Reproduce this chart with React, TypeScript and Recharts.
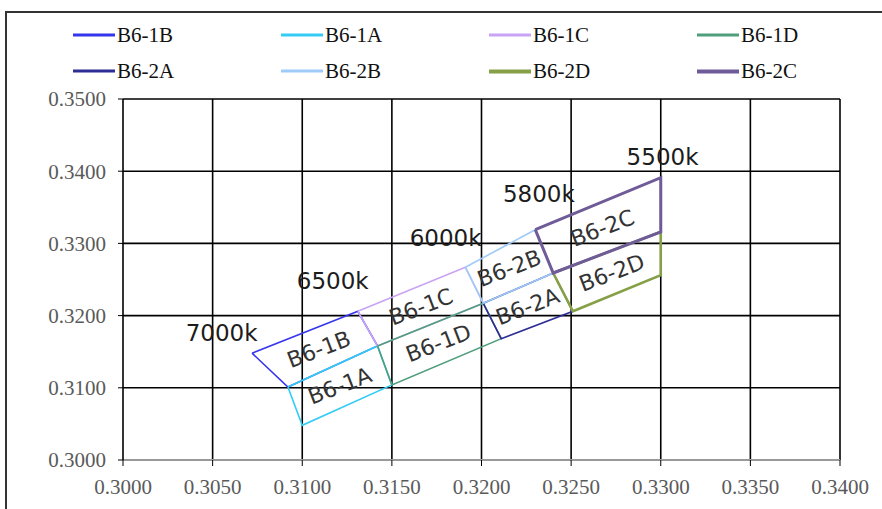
import React from 'react';
import { ScatterChart, Scatter, XAxis, YAxis, CartesianGrid } from 'recharts';

type Pt = { x: number; y: number };

const xTicks = [0.3, 0.305, 0.31, 0.315, 0.32, 0.325, 0.33, 0.335, 0.34];
const yTicks = [0.3, 0.31, 0.32, 0.33, 0.34, 0.35];

// each bin is a closed quadrangle (first point repeated at the end)
const b61B: Pt[] = [
  { x: 0.3072, y: 0.3148 }, { x: 0.3131, y: 0.3206 }, { x: 0.3142, y: 0.3158 },
  { x: 0.3092, y: 0.3101 }, { x: 0.3072, y: 0.3148 },
];
const b61A: Pt[] = [
  { x: 0.3092, y: 0.3101 }, { x: 0.3142, y: 0.3158 }, { x: 0.3150, y: 0.3104 },
  { x: 0.3100, y: 0.3048 }, { x: 0.3092, y: 0.3101 },
];
const b61C: Pt[] = [
  { x: 0.3131, y: 0.3206 }, { x: 0.3191, y: 0.3267 }, { x: 0.3201, y: 0.3217 },
  { x: 0.3142, y: 0.3158 }, { x: 0.3131, y: 0.3206 },
];
const b61D: Pt[] = [
  { x: 0.3142, y: 0.3158 }, { x: 0.3201, y: 0.3217 }, { x: 0.3211, y: 0.3168 },
  { x: 0.3150, y: 0.3104 }, { x: 0.3142, y: 0.3158 },
];
const b62A: Pt[] = [
  { x: 0.3201, y: 0.3217 }, { x: 0.3240, y: 0.3259 }, { x: 0.3251, y: 0.3206 },
  { x: 0.3211, y: 0.3168 }, { x: 0.3201, y: 0.3217 },
];
const b62B: Pt[] = [
  { x: 0.3191, y: 0.3267 }, { x: 0.3230, y: 0.3319 }, { x: 0.3240, y: 0.3259 },
  { x: 0.3201, y: 0.3217 }, { x: 0.3191, y: 0.3267 },
];
const b62D: Pt[] = [
  { x: 0.3240, y: 0.3259 }, { x: 0.3300, y: 0.3316 }, { x: 0.3300, y: 0.3256 },
  { x: 0.3251, y: 0.3206 }, { x: 0.3240, y: 0.3259 },
];
const b62C: Pt[] = [
  { x: 0.3230, y: 0.3319 }, { x: 0.3300, y: 0.3391 }, { x: 0.3300, y: 0.3316 },
  { x: 0.3240, y: 0.3259 }, { x: 0.3230, y: 0.3319 },
];

const cctLabels = [
  { x: 0.3055, y: 0.3176, text: '7000k' },
  { x: 0.3117, y: 0.3248, text: '6500k' },
  { x: 0.3180, y: 0.3307, text: '6000k' },
  { x: 0.3232, y: 0.3368, text: '5800k' },
  { x: 0.3301, y: 0.3420, text: '5500k' },
];

const bins = [
  { name: 'B6-1B', points: b61B, color: '#3535ee', width: 1.6 },
  { name: 'B6-1A', points: b61A, color: '#33ccf5', width: 1.6 },
  { name: 'B6-1C', points: b61C, color: '#c9a3f5', width: 1.6 },
  { name: 'B6-1D', points: b61D, color: '#4f9e7c', width: 1.6 },
  { name: 'B6-2A', points: b62A, color: '#2d2d96', width: 1.6 },
  { name: 'B6-2B', points: b62B, color: '#9ecbf7', width: 1.6 },
  { name: 'B6-2D', points: b62D, color: '#86a048', width: 2.6 },
  { name: 'B6-2C', points: b62C, color: '#6e5b98', width: 3 },
];

const centroid = (pts: Pt[]) => {
  const p = pts.slice(0, -1);
  return {
    x: p.reduce((s, q) => s + q.x, 0) / p.length,
    y: p.reduce((s, q) => s + q.y, 0) / p.length,
  };
};

const binLabels = bins.map((b) => ({ ...centroid(b.points), text: b.name }));

const noDot = () => <g />;

const CctText = (props: any) => (
  <text
    x={props.cx}
    y={props.cy}
    textAnchor="middle"
    dominantBaseline="central"
    fontFamily="DejaVu Sans"
    fontSize={23}
    fill="#1c1c1c"
  >
    {props.payload.text}
  </text>
);

const BinText = (props: any) => (
  <text
    x={props.cx}
    y={props.cy}
    textAnchor="middle"
    dominantBaseline="central"
    fontFamily="DejaVu Sans"
    fontSize={22}
    fill="#333"
    transform={`rotate(-21 ${props.cx} ${props.cy})`}
  >
    {props.payload.text}
  </text>
);

const serif = '"Liberation Serif", "Times New Roman", serif';

export default function App() {
  return (
    <div style={{ position: 'absolute', left: 0, top: 0, width: 882, height: 509, overflow: 'hidden', background: '#fff' }}>
      <div
        style={{
          position: 'absolute', left: 5, top: 11, width: 900, height: 520,
          borderLeft: '2px solid #333', borderTop: '2px solid #333',
        }}
      />
      {bins.map((b, i) => (
        <div
          key={b.name}
          style={{
            position: 'absolute',
            left: 73 + (i % 4) * 208,
            top: i < 4 ? 35 : 71,
            display: 'flex',
            alignItems: 'center',
            transform: 'translateY(-50%)',
            fontFamily: serif,
            fontSize: 21,
            color: '#111',
          }}
        >
          <span style={{ display: 'inline-block', width: 42, height: b.width > 2 ? 4 : 2.5, background: b.color, marginRight: 2 }} />
          <span>{b.name}</span>
        </div>
      ))}
      <div style={{ position: 'absolute', left: 0, top: 0 }}>
        <ScatterChart width={882} height={509} margin={{ top: 99, right: 42, bottom: 13, left: 43 }}>
          <CartesianGrid
            stroke="#000"
            strokeWidth={1.6}
            horizontalValues={yTicks.filter((v) => v > 0.3)}
            verticalValues={xTicks.filter((v) => v > 0.3)}
          />
          <XAxis
            type="number"
            dataKey="x"
            domain={[0.3, 0.34]}
            ticks={xTicks}
            tickFormatter={(v: number) => v.toFixed(4)}
            axisLine={{ stroke: '#999', strokeWidth: 2 }}
            tickLine={{ stroke: '#000' }}
            tickSize={6}
            tickMargin={13}
            height={36}
            tick={{ fontFamily: serif, fontSize: 21, fill: '#5a5a5a' }}
            interval={0}
          />
          <YAxis
            type="number"
            dataKey="y"
            domain={[0.3, 0.35]}
            ticks={yTicks}
            tickFormatter={(v: number) => v.toFixed(4)}
            axisLine={{ stroke: '#000', strokeWidth: 1.6 }}
            tickLine={{ stroke: '#000' }}
            tickSize={5}
            tickMargin={12}
            width={80}
            tick={{ fontFamily: serif, fontSize: 21, fill: '#5a5a5a' }}
            interval={0}
          />
          {bins.map((b) => (
            <Scatter
              key={b.name}
              name={b.name}
              data={b.points}
              fill={b.color}
              line={{ stroke: b.color, strokeWidth: b.width }}
              lineType="joint"
              shape={noDot}
              isAnimationActive={false}
            />
          ))}
          <Scatter data={binLabels} shape={BinText} legendType="none" isAnimationActive={false} />
          <Scatter data={cctLabels} shape={CctText} legendType="none" isAnimationActive={false} />
        </ScatterChart>
      </div>
    </div>
  );
}
